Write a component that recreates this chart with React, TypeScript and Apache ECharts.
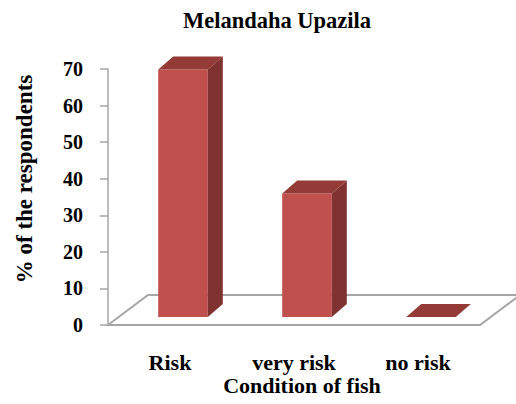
import React, { useEffect, useRef } from "react";
import * as echarts from "echarts";

const categories = ["Risk", "very risk", "no risk"];
const respondents = [66.7, 33.3, 0];
const yMin = 0;
const yMax = 70;
const yStep = 10;

const SERIF = '"Liberation Serif", "Times New Roman", serif';
const FRONT = "#C0504D";
const SIDE = "#7F3230";
const TOP = "#943A37";
const FLOOR_LINE = "#A6A6A6";

// oblique depth offsets for the 3D look
const BAR_SHIFT_X = 13;
const BAR_SHIFT_Y = 8;
const BAR_DEPTH_X = 15;
const BAR_DEPTH_Y = -13;
const FLOOR_DEPTH_X = 40;
const FLOOR_DEPTH_Y = -30;

export default function App() {
  const ref = useRef<HTMLDivElement>(null);

  useEffect(() => {
    if (!ref.current) return;
    const chart = echarts.init(ref.current, undefined, { renderer: "svg" });

    const floorItem = (params: any) => {
      const cs = params.coordSys;
      const xl = cs.x;
      const xr = cs.x + cs.width;
      const yf = cs.y + cs.height;
      return {
        type: "polygon",
        shape: {
          points: [
            [xl, yf],
            [xl + FLOOR_DEPTH_X, yf + FLOOR_DEPTH_Y],
            [xr + FLOOR_DEPTH_X, yf + FLOOR_DEPTH_Y],
            [xr, yf],
          ],
        },
        style: { fill: "#ffffff", stroke: FLOOR_LINE, lineWidth: 2 },
      };
    };

    const barItem = (params: any, api: any) => {
      const idx = api.value(0);
      const v = api.value(1);
      const base = api.coord([idx, 0]);
      const top = api.coord([idx, v]);
      const band = api.size([1, 0])[0];
      const w = band * 0.4;
      const x0 = base[0] + BAR_SHIFT_X - w / 2;
      const x1 = x0 + w;
      const yb = base[1] - BAR_SHIFT_Y;
      const h = (base[1] - top[1]) * 1.015;
      const yt = yb - h;
      const dx = BAR_DEPTH_X;
      const dy = BAR_DEPTH_Y;
      const children: any[] = [];
      if (h > 0.5) {
        children.push({
          type: "rect",
          shape: { x: x0, y: yt, width: w, height: h },
          style: { fill: FRONT },
        });
        children.push({
          type: "polygon",
          shape: {
            points: [
              [x1, yb],
              [x1 + dx, yb + dy],
              [x1 + dx, yt + dy],
              [x1, yt],
            ],
          },
          style: { fill: SIDE },
        });
      }
      children.push({
        type: "polygon",
        shape: {
          points: [
            [x0, yt],
            [x0 + dx, yt + dy],
            [x1 + dx, yt + dy],
            [x1, yt],
          ],
        },
        style: { fill: TOP },
      });
      return { type: "group", children };
    };

    chart.setOption({
      animation: false,
      backgroundColor: "#ffffff",
      grid: { left: 108, right: 36, top: 69, bottom: 79, containLabel: false },
      xAxis: {
        type: "category",
        data: categories,
        axisLine: { show: false },
        axisTick: { show: false },
        axisLabel: {
          margin: 26,
          color: "#000",
          fontFamily: SERIF,
          fontWeight: "bold",
          fontSize: 22,
        },
      },
      yAxis: {
        type: "value",
        min: yMin,
        max: yMax,
        interval: yStep,
        axisLine: { show: true, lineStyle: { color: FLOOR_LINE, width: 1.5 } },
        axisTick: { show: true, length: 8, lineStyle: { color: FLOOR_LINE, width: 1.5 } },
        splitLine: { show: false },
        axisLabel: {
          margin: 25,
          color: "#000",
          fontFamily: SERIF,
          fontWeight: "bold",
          fontSize: 20,
        },
      },
      graphic: [
        {
          type: "text",
          x: 277,
          y: 20,
          style: {
            text: "Melandaha Upazila",
            fill: "#000",
            font: `bold 22.5px ${SERIF}`,
            textAlign: "center",
            textVerticalAlign: "middle",
          },
        },
        {
          type: "text",
          x: 24,
          y: 179,
          rotation: Math.PI / 2,
          style: {
            text: "% of the respondents",
            fill: "#000",
            font: `bold 23px ${SERIF}`,
            textAlign: "center",
            textVerticalAlign: "middle",
          },
        },
        {
          type: "text",
          x: 302,
          y: 385,
          style: {
            text: "Condition of fish",
            fill: "#000",
            font: `bold 22px ${SERIF}`,
            textAlign: "center",
            textVerticalAlign: "middle",
          },
        },
      ],
      series: [
        {
          type: "custom",
          clip: false,
          z: 1,
          silent: true,
          renderItem: floorItem,
          data: [[0, 0]],
          encode: { x: 0, y: 1 },
        },
        {
          type: "custom",
          clip: false,
          z: 2,
          renderItem: barItem,
          data: respondents.map((v, i) => [i, v]),
          encode: { x: 0, y: 1 },
        },
      ],
    });

    return () => chart.dispose();
  }, []);

  return (
    <div
      ref={ref}
      style={{ position: "fixed", left: 0, top: 0, width: 516, height: 404 }}
    />
  );
}
